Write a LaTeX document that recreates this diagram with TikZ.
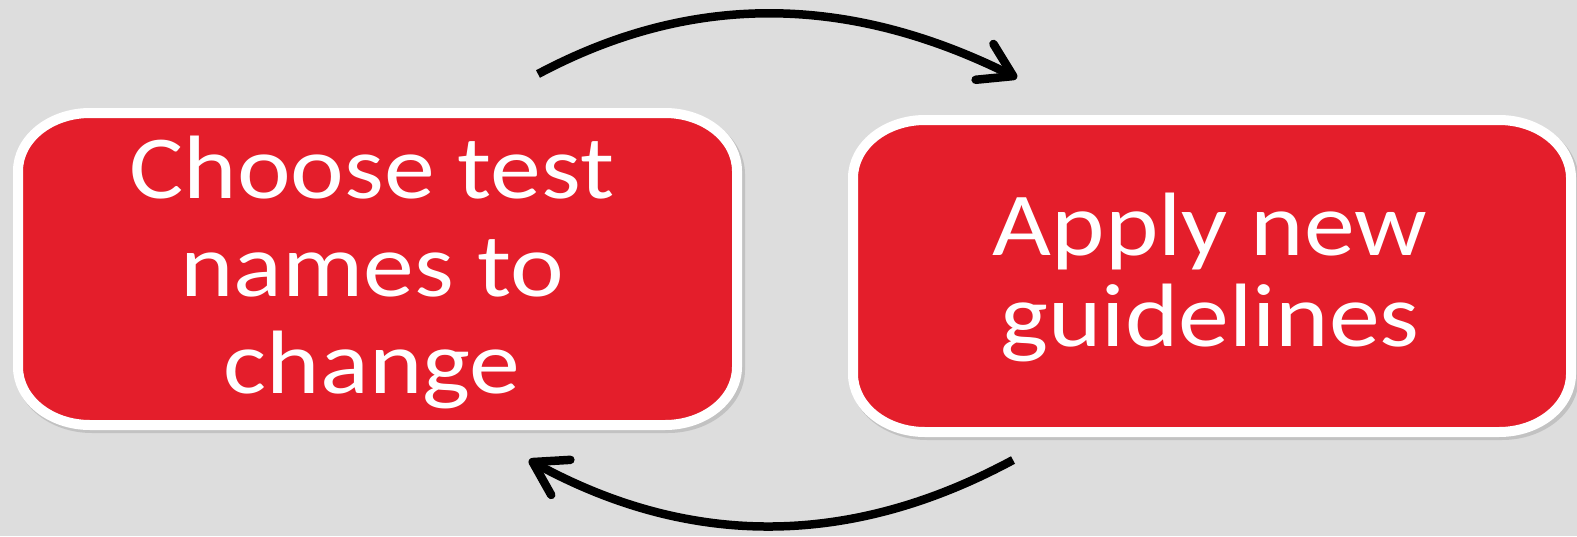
\documentclass[tikz,border=0pt]{standalone}
\usepackage{fontspec}
\setmainfont{Carlito}[FakeStretch=1.13]
\usetikzlibrary{arrows.meta}
\definecolor{bg}{HTML}{DDDDDD}
\definecolor{boxred}{HTML}{E41E2B}
\tikzset{
  boxfill/.style={fill=boxred, draw=white, line width=10pt},
  boxshadow/.style={fill=black, opacity=0.12, draw=black, draw opacity=0.12, line width=10pt},
  boxtext/.style={text=white, align=center, inner sep=0pt},
  cyclearrow/.style={line width=8.5pt, draw=black,
    -{Straight Barb[length=32pt,width=40pt,line cap=round,line join=round]}}
}
\newcommand\erx{72}
\newcommand\ery{58}
% elliptical-corner rounded rectangle: #1 style, (#2,#3) top-left, (#4,#5) bottom-right
\newcommand\ellbox[5]{%
  \path[#1] ({#2+\erx},#3) -- ({#4-\erx},#3)
    .. controls ({#4-\erx*0.4477},#3) and (#4,{#3+\ery*0.4477}) .. (#4,{#3+\ery})
    -- (#4,{#5-\ery})
    .. controls (#4,{#5-\ery*0.4477}) and ({#4-\erx*0.4477},#5) .. ({#4-\erx},#5)
    -- ({#2+\erx},#5)
    .. controls ({#2+\erx*0.4477},#5) and (#2,{#5-\ery*0.4477}) .. (#2,{#5-\ery})
    -- (#2,{#3+\ery})
    .. controls (#2,{#3+\ery*0.4477}) and ({#2+\erx*0.4477},#3) .. ({#2+\erx},#3) -- cycle;}
\begin{document}
\begin{tikzpicture}[x=1pt,y=-1pt]
\fill[bg] (0,0) rectangle (1577,536);
\useasboundingbox (0,0) rectangle (1577,536);
% box shadows
\ellbox{boxshadow}{20}{116}{740}{428}
\ellbox{boxshadow}{855}{123}{1574}{435}
% boxes
\ellbox{boxfill}{18}{113}{737}{425}
\ellbox{boxfill}{853}{120}{1571}{432}
% texts
\node[boxtext, font=\fontsize{90}{97.5}\selectfont] (b1) at (372,272.5) {Choose test\\names to\\change};
\node[boxtext, font=\fontsize{90}{91}\selectfont] (b2) at (1210,277) {Apply new\\guidelines};
% connectors
\coordinate (t1) at (538,74);
\coordinate (t2) at (1017,78);
\coordinate (u1) at (1013,460);
\coordinate (u2) at (529,460);
\draw[cyclearrow] (t1) .. controls (690,-7) and (846,-7) .. (t2);
\draw[cyclearrow] (u1) .. controls (850,548) and (690,548) .. (u2);
\end{tikzpicture}
\end{document}
